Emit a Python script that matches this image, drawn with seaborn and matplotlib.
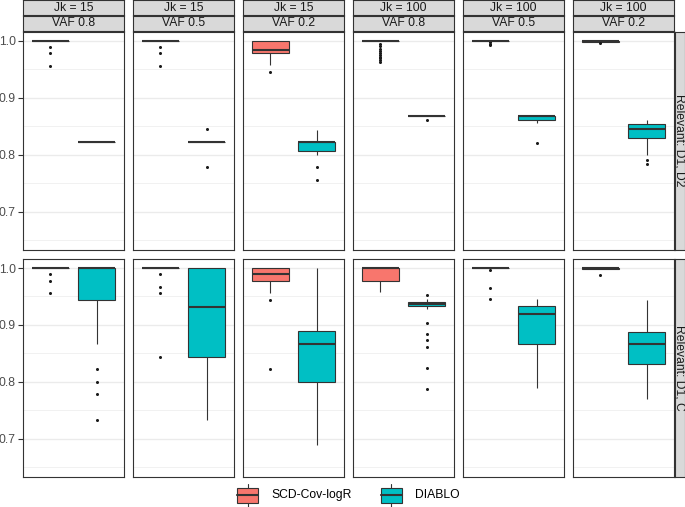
import numpy as np
import pandas as pd
import matplotlib
matplotlib.use("Agg")
import matplotlib.pyplot as plt
import seaborn as sns
from matplotlib.patches import Rectangle

# ---------------- data ----------------
methods = ["SCD-Cov-logR", "DIABLO"]
method_colors = ["#F8766D", "#00BFC4"]
jk_labels = ["Jk = 15", "Jk = 15", "Jk = 15", "Jk = 100", "Jk = 100", "Jk = 100"]
vaf_labels = ["VAF 0.8", "VAF 0.5", "VAF 0.2", "VAF 0.8", "VAF 0.5", "VAF 0.2"]
row_labels = ["Relevant: D1, D2", "Relevant: D1, C"]
y_major = [0.7, 0.8, 0.9, 1.0]
y_major_labels = ["0.7", "0.8", "0.9", "1.0"]
y_minor = [0.65, 0.75, 0.85, 0.95]

# Row "Relevant: D1, D2"
scd_d1d2_jk15_vaf08 = [0.956, 0.978, 0.9895] + [1.0] * 18
dia_d1d2_jk15_vaf08 = [0.822] * 21
scd_d1d2_jk15_vaf05 = [0.956, 0.978, 0.9895] + [1.0] * 18
dia_d1d2_jk15_vaf05 = [0.778, 0.845] + [0.822] * 19
scd_d1d2_jk15_vaf02 = [0.945, 0.957, 0.965, 0.972, 0.976, 0.979, 0.980, 0.981, 0.982, 0.983,
                       0.984, 0.988, 0.992, 0.996, 0.999, 1.0, 1.0, 1.0, 1.0, 1.0, 1.0]
dia_d1d2_jk15_vaf02 = [0.755, 0.778, 0.800, 0.802, 0.804, 0.806, 0.808, 0.810, 0.813, 0.816,
                       0.8225, 0.8225, 0.8225, 0.8225, 0.8225, 0.8225, 0.826, 0.830, 0.835, 0.840, 0.844]
scd_d1d2_jk100_vaf08 = [0.963, 0.966, 0.969, 0.972, 0.975, 0.978, 0.982, 0.986, 0.990, 0.995,
                        0.999] + [1.0] * 30
dia_d1d2_jk100_vaf08 = [0.861] + [0.867] * 20
scd_d1d2_jk100_vaf05 = [0.992, 0.995, 0.998] + [1.0] * 18
dia_d1d2_jk100_vaf05 = [0.820, 0.855, 0.857, 0.858, 0.859, 0.860, 0.861, 0.862, 0.863, 0.864,
                        0.867, 0.867, 0.867, 0.867, 0.867, 0.867, 0.867, 0.867, 0.867, 0.867, 0.867]
scd_d1d2_jk100_vaf02 = [0.9955, 0.9985, 0.9985, 0.9985, 0.9985, 0.9985, 0.999, 0.999, 0.9995, 0.9995] + [1.0] * 11
dia_d1d2_jk100_vaf02 = [0.783, 0.790, 0.800, 0.812, 0.822, 0.829, 0.833, 0.837, 0.840, 0.843,
                        0.845, 0.847, 0.849, 0.851, 0.853, 0.854, 0.855, 0.856, 0.857, 0.858, 0.860]

# Row "Relevant: D1, C"
scd_d1c_jk15_vaf08 = [0.956, 0.977, 0.989] + [1.0] * 18
dia_d1c_jk15_vaf08 = [0.733, 0.778, 0.800, 0.823, 0.866, 0.944, 0.960, 0.975, 0.990] + [1.0] * 12
scd_d1c_jk15_vaf05 = [0.844, 0.956, 0.967, 0.989] + [1.0] * 17
dia_d1c_jk15_vaf05 = [0.733, 0.760, 0.790, 0.815, 0.835, 0.844, 0.860, 0.880, 0.900, 0.920,
                      0.932, 0.950, 0.970, 0.990, 1.0, 1.0, 1.0, 1.0, 1.0, 1.0, 1.0]
scd_d1c_jk15_vaf02 = [0.823, 0.944, 0.957, 0.965, 0.972, 0.978, 0.980, 0.982, 0.985, 0.987,
                      0.989, 0.991, 0.994, 0.996, 0.998, 1.0, 1.0, 1.0, 1.0, 1.0, 1.0]
dia_d1c_jk15_vaf02 = [0.689, 0.720, 0.750, 0.770, 0.790, 0.800, 0.820, 0.840, 0.850, 0.860,
                      0.866, 0.870, 0.875, 0.880, 0.885, 0.889, 0.910, 0.930, 0.950, 0.980, 1.0]
scd_d1c_jk100_vaf08 = [0.958, 0.962, 0.967, 0.971, 0.975, 0.977, 0.985, 0.990, 0.995, 0.998] + [1.0] * 11
dia_d1c_jk100_vaf08 = [0.787, 0.824, 0.861, 0.874, 0.884, 0.904,
                       0.928, 0.930, 0.931, 0.932, 0.933, 0.934, 0.934, 0.935, 0.935, 0.936,
                       0.936, 0.936, 0.937, 0.937, 0.937, 0.937, 0.938, 0.938, 0.938, 0.939,
                       0.939, 0.939, 0.940, 0.940, 0.9405, 0.941, 0.941, 0.942, 0.942, 0.943,
                       0.943, 0.944, 0.944, 0.946, 0.953]
scd_d1c_jk100_vaf05 = [0.945, 0.9645, 0.997] + [1.0] * 18
dia_d1c_jk100_vaf05 = [0.790, 0.810, 0.830, 0.850, 0.860, 0.866, 0.880, 0.890, 0.900, 0.910,
                       0.919, 0.922, 0.925, 0.928, 0.931, 0.933, 0.936, 0.939, 0.942, 0.944, 0.946]
scd_d1c_jk100_vaf02 = [0.988, 0.998, 0.998, 0.998, 0.998, 0.998, 0.999, 0.999, 0.999] + [1.0] * 12
dia_d1c_jk100_vaf02 = [0.770, 0.790, 0.805, 0.815, 0.825, 0.831, 0.840, 0.848, 0.855, 0.861,
                       0.866, 0.870, 0.874, 0.878, 0.883, 0.887, 0.897, 0.908, 0.920, 0.932, 0.943]

panels = [
    [(scd_d1d2_jk15_vaf08, dia_d1d2_jk15_vaf08), (scd_d1d2_jk15_vaf05, dia_d1d2_jk15_vaf05),
     (scd_d1d2_jk15_vaf02, dia_d1d2_jk15_vaf02), (scd_d1d2_jk100_vaf08, dia_d1d2_jk100_vaf08),
     (scd_d1d2_jk100_vaf05, dia_d1d2_jk100_vaf05), (scd_d1d2_jk100_vaf02, dia_d1d2_jk100_vaf02)],
    [(scd_d1c_jk15_vaf08, dia_d1c_jk15_vaf08), (scd_d1c_jk15_vaf05, dia_d1c_jk15_vaf05),
     (scd_d1c_jk15_vaf02, dia_d1c_jk15_vaf02), (scd_d1c_jk100_vaf08, dia_d1c_jk100_vaf08),
     (scd_d1c_jk100_vaf05, dia_d1c_jk100_vaf05), (scd_d1c_jk100_vaf02, dia_d1c_jk100_vaf02)],
]

# ---------------- style ----------------
sns.set_theme(style="white")
plt.rcParams['font.family'] = ['Liberation Sans', 'DejaVu Sans']

W, H = 685, 507
fig = plt.figure(figsize=(W / 100, H / 100), dpi=100)
fig.patch.set_facecolor("white")


def rect(x0, y0, x1, y1):
    return [x0 / W, 1 - y1 / H, (x1 - x0) / W, (y1 - y0) / H]


BORDER = "#333333"
STRIP = "#D9D9D9"
FS = 8.7
col_left = [23 + 110 * i for i in range(6)]
col_w = 101
row_top = [31.7, 259.0]
row_h = 218.0
ylim = (0.6332, 1.0158)


def strip_axes(x0, y0, x1, y1, label, rotation=0):
    sa = fig.add_axes(rect(x0, y0, x1, y1))
    sa.set_facecolor(STRIP)
    sa.set_xticks([])
    sa.set_yticks([])
    for s in sa.spines.values():
        s.set_color(BORDER)
        s.set_linewidth(0.8)
    sa.text(0.5, 0.5, label, transform=sa.transAxes, ha="center", va="center",
            fontsize=FS, color="#1A1A1A", rotation=rotation)
    return sa


for r in range(2):
    for c in range(6):
        x0 = col_left[c]
        y0 = row_top[r]
        ax = fig.add_axes(rect(x0, y0, x0 + col_w, y0 + row_h))
        ax.set_facecolor("white")
        scd, dia = panels[r][c]
        df = pd.DataFrame({
            "value": list(scd) + list(dia),
            "method": [methods[0]] * len(scd) + [methods[1]] * len(dia),
        })
        for yv in y_minor:
            ax.axhline(yv, color="#EBEBEB", lw=0.5, zorder=0)
        for yv in y_major:
            ax.axhline(yv, color="#EBEBEB", lw=1.0, zorder=0)
        sns.boxplot(data=df, x="method", y="value", hue="method",
                    order=methods, hue_order=methods, palette=method_colors,
                    saturation=1, width=0.8, linecolor=BORDER, linewidth=0.8,
                    showcaps=False, legend=False, ax=ax,
                    medianprops=dict(linewidth=1.5, color=BORDER),
                    flierprops=dict(marker="o", markersize=2.2,
                                    markerfacecolor="#1A1A1A",
                                    markeredgecolor="#1A1A1A",
                                    markeredgewidth=0))
        ax.set_xlim(-0.59, 1.59)
        ax.set_ylim(*ylim)
        ax.set_xlabel("")
        ax.set_ylabel("")
        ax.set_xticks([])
        for s in ax.spines.values():
            s.set_color(BORDER)
            s.set_linewidth(0.8)
            s.set_visible(True)
        if c == 0:
            ax.set_yticks(y_major)
            ax.set_yticklabels(y_major_labels)
            ax.tick_params(axis="y", length=3.7, width=0.8, color=BORDER,
                           labelsize=FS, labelcolor="#4D4D4D", pad=1.5, left=True)
        else:
            ax.set_yticks([])
        if r == 0:
            strip_axes(x0, 0.4, x0 + col_w, 15.3, jk_labels[c])
            strip_axes(x0, 16.0, x0 + col_w, 30.9, vaf_labels[c])
    strip_axes(675.0, row_top[r], 684.5, row_top[r] + row_h, row_labels[r], rotation=-90)

# ---------------- legend ----------------
lg = fig.add_axes([0, 0, 1, 1], facecolor="none")
lg.set_xlim(0, W)
lg.set_ylim(H, 0)
lg.axis("off")
legend_items = [(237.5, 271.5), (381.0, 415.0)]
for (kx, tx), name, colr in zip(legend_items, methods, method_colors):
    kw = 21.0
    cx = kx + kw / 2
    lg.plot([cx, cx], [483.5, 506.5], color=BORDER, lw=0.8, zorder=1)
    lg.add_patch(Rectangle((kx, 488.0), kw, 14.5, facecolor=colr,
                           edgecolor=BORDER, lw=0.8, zorder=2))
    lg.plot([kx, kx + kw], [495.2, 495.2], color=BORDER, lw=1.5, zorder=3)
    lg.text(tx, 495.2, name, ha="left", va="center", fontsize=FS, color="#000000")

fig.savefig("out.png", dpi=100, facecolor="white")
